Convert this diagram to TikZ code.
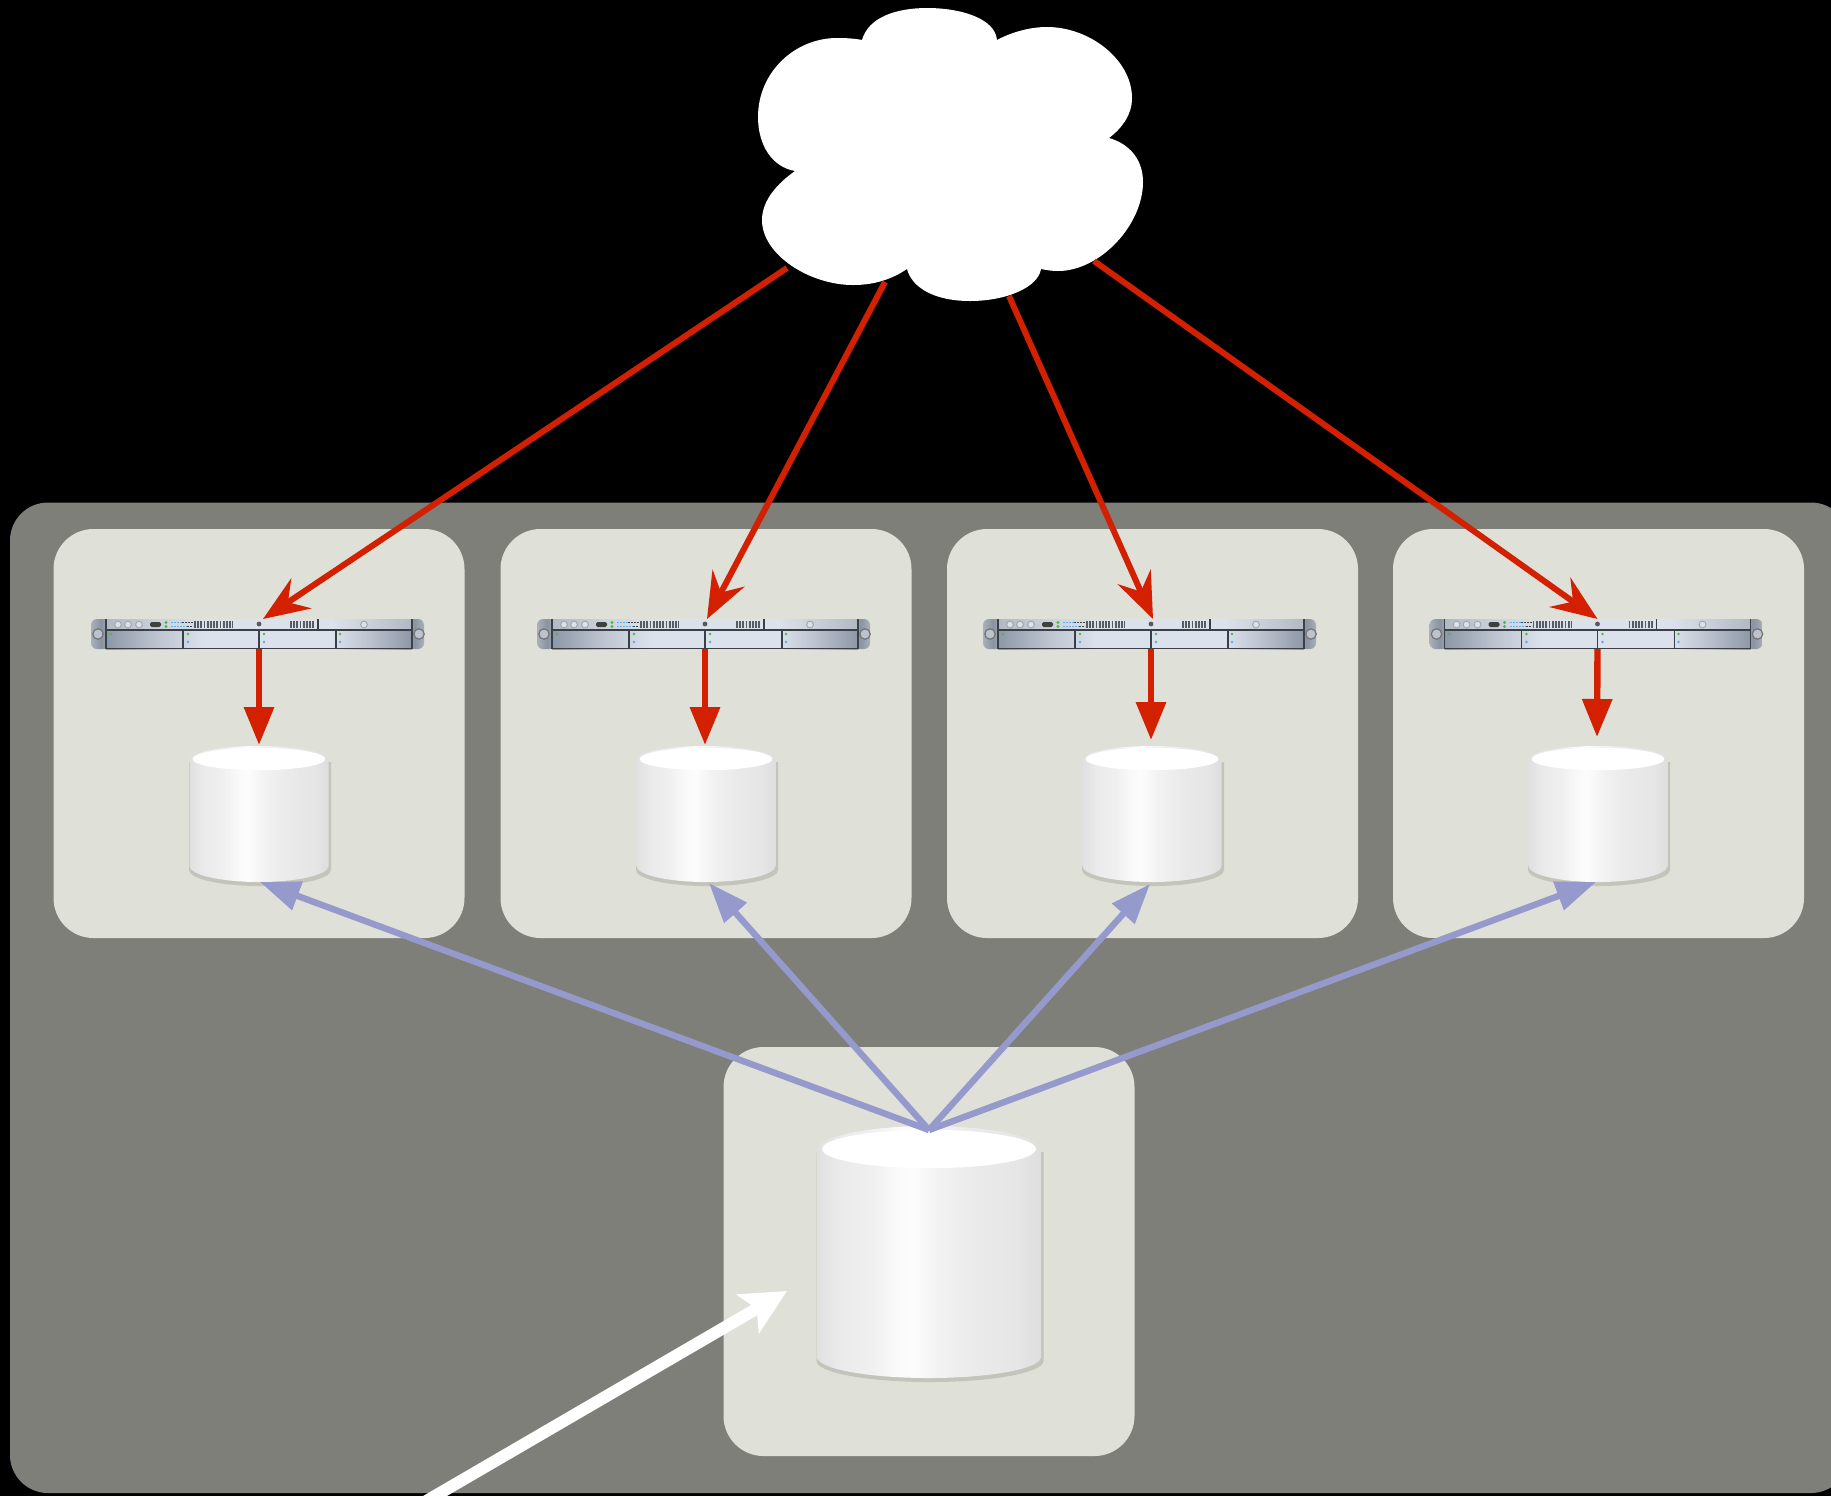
\documentclass[tikz,border=0pt]{standalone}
\usetikzlibrary{arrows.meta}

\definecolor{panelgray}{HTML}{7E7F79}
\definecolor{cellgray}{HTML}{DFE0D8}
\definecolor{redarrow}{HTML}{D22000}
\definecolor{bluearrow}{HTML}{9599CC}
\definecolor{dbshadowgray}{HTML}{C3C4BA}
\definecolor{rackline}{HTML}{3A3F48}
\definecolor{rackdark}{HTML}{8E97A5}
\definecolor{rackmid}{HTML}{BCC3CF}
\definecolor{racklight}{HTML}{DCE2EB}
\definecolor{rackear}{HTML}{8A93A1}
\definecolor{rackearlight}{HTML}{A9B0BB}

\pgfdeclarehorizontalshading{dbbody}{100bp}{color(0bp)=(white!88!black); color(25bp)=(white!88!black); color(30bp)=(white!92!black); color(37bp)=(white!94!black); color(43bp)=(white!98!black); color(46bp)=(white!99!black); color(52bp)=(white!95!black); color(60bp)=(white!92!black); color(70bp)=(white!90!black); color(75bp)=(white!87!black); color(100bp)=(white!87!black)}
\pgfdeclarehorizontalshading{rackbody}{100bp}{color(0bp)=(rackdark); color(25bp)=(rackdark); color(33bp)=(rackmid); color(41bp)=(racklight); color(62bp)=(racklight); color(68bp)=(rackmid); color(75bp)=(rackdark); color(100bp)=(rackdark)}
\pgfdeclarehorizontalshading{rackearbody}{100bp}{color(0bp)=(rackearlight); color(25bp)=(rackearlight); color(50bp)=(rackear); color(75bp)=(rackearlight); color(100bp)=(rackearlight)}

\newcommand{\dbcyl}[7]{%
	\fill[dbshadowgray] ({#2-#4-0.5},{#3+#5+2}) -- ({#2-#4-0.5},{#6+4}) arc[start angle=180,end angle=0,x radius=#4+1.5,y radius=#7] -- ({#2+#4+2.5},{#3+#5+2}) -- cycle;
	\shade[shading=dbbody] ({#2-#4},{#3+#5}) arc[start angle=180,end angle=360,x radius=#4,y radius=#5] -- ({#2+#4},#6) arc[start angle=0,end angle=180,x radius=#4,y radius=#7] -- cycle;
	\fill[white] (#2,{#3+#5-1}) ellipse[x radius=#4*0.955,y radius=#5*0.8];
	\node (#1) [dbnode, minimum width=#4*1pt, minimum height={(#6+#7-#3)*0.5pt}] at (#2,{(#3+#6+#7)/2}) {};
}

\newcommand{\serverrack}[2]{%
	\begin{scope}[shift={(#2,619)}]
		\shade[shading=rackearbody, rounded corners=3pt] (0,0) rectangle (20,30);
		\shade[shading=rackearbody, rounded corners=3pt] (314,0) rectangle (333,30);
		\shade[shading=rackbody] (15,0) rectangle (321,30);
		\fill[racklight, opacity=0.45] (15,0) rectangle (321,11);
		\draw[rackline, line width=0.6pt] (15,0) -- (15,30) (92,11) -- (92,30) (168,11) -- (168,30) (245,11) -- (245,30) (321,0) -- (321,30) (227,0) -- (227,11);
		\draw[rackline, line width=0.6pt] (15,11) -- (321,11) (15,29.5) -- (321,29.5);
		\draw[black!55, fill=rackmid, line width=0.6pt] (7,15) circle (2.6pt) (328,15) circle (2.6pt);
		\draw[black!35, fill=racklight, line width=0.5pt] (27,5.5) circle (1.7pt) (37,5.5) circle (1.7pt) (48,5.5) circle (1.7pt) (273,5.5) circle (1.7pt);
		\fill[black!75, rounded corners=0.8pt] (59,3) rectangle (70,8);
		\fill[green!60!black!70] (75,3.5) circle (0.8pt) (75,7.5) circle (0.8pt);
		\draw[cyan!70!blue!60, line width=0.7pt, dash pattern=on 1.1pt off 0.4pt] (80,3.5) -- (91,3.5) (80,7.5) -- (96,7.5);
		\draw[black!75, line width=0.7pt, dash pattern=on 1.1pt off 0.4pt] (91,3.5) -- (102,3.5) (96,7.5) -- (102,7.5);
		\draw[rackline!85!white, line width=3.4pt, dash pattern=on 0.9pt off 0.7pt] (103,5.5) -- (142,5.5) (199,5.5) -- (224,5.5);
		\fill[black!65] (168,5) circle (1.2pt);
		\fill[green!60!black!70] (20,15) circle (0.7pt) (97,15) circle (0.7pt) (173,15) circle (0.7pt) (249,15) circle (0.7pt);
		\fill[cyan!60!blue!60] (20,23) circle (0.7pt) (97,23) circle (0.7pt) (173,23) circle (0.7pt) (249,23) circle (0.7pt);
		\node (#1) [serverbox] at (167,15) {};
	\end{scope}
}

\begin{document}
\begin{tikzpicture}[x=0.5pt, y=-0.5pt,
	cell/.style={fill=cellgray, rounded corners=20pt, minimum width=205.5pt, minimum height=204.5pt, inner sep=0pt},
	dbnode/.style={inner sep=0pt, outer sep=0pt},
	serverbox/.style={minimum width=167pt, minimum height=15pt, inner sep=0pt, outer sep=0pt},
	cloudnode/.style={minimum width=192.5pt, minimum height=146.5pt, inner sep=0pt},
	redline/.style={draw=redarrow, line width=3pt, -{Stealth[length=23pt, width=18pt, inset=8pt]}, redarrow},
	redshort/.style={draw=redarrow, line width=3.2pt, -{Triangle[length=19pt, width=14.5pt]}, redarrow},
	blueline/.style={draw=bluearrow, line width=3.2pt, -{Triangle[length=20pt, width=14.5pt]}, bluearrow},
	whiteline/.style={draw=white, line width=6pt, -{Stealth[length=22.5pt, width=22pt, inset=5pt]}, white}]

	\useasboundingbox (0,0) rectangle (1831,1496);
	\clip (0,0) rectangle (1831,1496);
	\fill[black] (0,0) rectangle (1831,1496);
	\fill[panelgray, rounded corners=19pt] (10,502.5) rectangle (1849,1493);

	\node (cell1) [cell] at (259,733.5) {};
	\node (cell2) [cell] at (706,733.5) {};
	\node (cell3) [cell] at (1152.5,733.5) {};
	\node (cell4) [cell] at (1598.5,733.5) {};
	\node (cellmain) [cell] at (929,1251.5) {};

	\fill[white] (862,40) .. controls (868,18) and (895,8) .. (927,8) .. controls (960,8) and (995,18) .. (997,40)
		.. controls (1012,32) and (1030,27) .. (1047,27) .. controls (1090,27) and (1132,60) .. (1132,98) .. controls (1132,115) and (1122,128) .. (1109,138)
		.. controls (1130,144) and (1143,160) .. (1143,182) .. controls (1143,225) and (1100,271) .. (1058,271) .. controls (1052,271) and (1046,270) .. (1041,269)
		.. controls (1038,288) and (1005,301) .. (970,301) .. controls (935,301) and (912,288) .. (907,269)
		.. controls (892,279) and (875,285) .. (853,285) .. controls (810,285) and (762,255) .. (762,220) .. controls (762,200) and (778,183) .. (795,171)
		.. controls (772,167) and (758,145) .. (758,117) .. controls (758,72) and (795,38) .. (837,38) .. controls (846,38) and (855,38.5) .. (862,40) -- cycle;
	\node (cloud) [cloudnode] at (950.5,154.5) {};
	\coordinate (cloudout1) at (787,268);
	\coordinate (cloudout2) at (885,282);
	\coordinate (cloudout3) at (1009,296);
	\coordinate (cloudout4) at (1094,261);

	\serverrack{server1}{91}
	\serverrack{server2}{537}
	\serverrack{server3}{983}
	\serverrack{server4}{1429.5}

	\dbcyl{db1}{259}{746}{69.5}{14}{866}{16}
	\dbcyl{db2}{706}{746}{69.5}{14}{866}{16}
	\dbcyl{db3}{1152}{746}{69.5}{14}{866}{16}
	\dbcyl{db4}{1598}{746}{69.5}{14}{866}{16}
	\dbcyl{dbmain}{929}{1126}{112}{24}{1357}{21}

	\draw[redline] (cloudout1) -- ([xshift=2.5pt]server1.north);
	\draw[redline] (cloudout2) -- ([xshift=1.5pt]server2.north);
	\draw[redline] (cloudout3) -- ([xshift=1.5pt]server3.north);
	\draw[redline] (cloudout4) -- ([xshift=0.5pt]server4.north);

	\draw[redshort] ([xshift=0.5pt]server1.south) -- ([yshift=0.5pt]db1.north);
	\draw[redshort] ([xshift=0.5pt]server2.south) -- ([xshift=-0.5pt,yshift=0.5pt]db2.north);
	\draw[redshort] ([xshift=0.5pt]server3.south) -- ([xshift=-0.5pt,yshift=3pt]db3.north);
	\draw[redshort] ([xshift=0.5pt]server4.south) -- ([xshift=-0.5pt,yshift=4.5pt]db4.north);

	\draw[blueline] ([yshift=-2pt]dbmain.north) -- ([xshift=0.5pt]db1.south);
	\draw[blueline] ([yshift=-2pt]dbmain.north) -- ([xshift=1.5pt,yshift=-0.5pt]db2.south);
	\draw[blueline] ([yshift=-2pt]dbmain.north) -- ([xshift=-1pt,yshift=-1pt]db3.south);
	\draw[blueline] ([yshift=-2pt]dbmain.north) -- ([xshift=-1pt]db4.south);

	\coordinate (feedstart) at (420,1504.7);
	\coordinate (feedend) at (787,1291);
	\draw[whiteline] (feedstart) -- (feedend);
\end{tikzpicture}
\end{document}
